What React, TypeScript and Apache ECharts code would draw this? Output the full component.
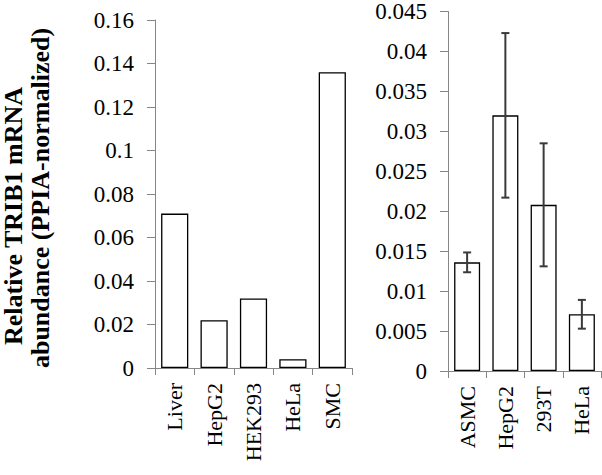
import React, { useEffect, useRef } from "react";
import * as echarts from "echarts";

const leftCategories = ["Liver", "HepG2", "HEK293", "HeLa", "SMC"];
const leftValues = [0.071, 0.022, 0.032, 0.004, 0.136];

const rightCategories = ["ASMC", "HepG2", "293T", "HeLa"];
const rightValues = [0.0136, 0.032, 0.0208, 0.0071];
const rightErrors = [0.00124, 0.0103, 0.0077, 0.0018];

const yTitleLine1 = "Relative TRIB1 mRNA";
const yTitleLine2 = "abundance (PPIA-normalized)";

const FONT = "Liberation Serif";
const AXIS_COLOR = "#868686";

const fmt = (v: number) => String(parseFloat(Number(v).toFixed(4)));

export default function App() {
  const ref = useRef<HTMLDivElement>(null);
  useEffect(() => {
    if (!ref.current) return;
    const chart = echarts.init(ref.current, undefined, { renderer: "svg" });

    const commonX = (cats: string[], gridIndex: number) => ({
      type: "category" as const,
      gridIndex,
      data: cats,
      boundaryGap: true,
      axisLine: { show: true, lineStyle: { color: AXIS_COLOR, width: 1 } },
      axisTick: { show: true, alignWithLabel: false, length: 7, lineStyle: { color: AXIS_COLOR } },
      axisLabel: {
        rotate: 90,
        margin: 15,
        fontFamily: FONT,
        fontSize: 22,
        color: "#000",
        interval: 0,
      },
      splitLine: { show: false },
    });

    const commonY = (gridIndex: number, max: number, interval: number) => ({
      type: "value" as const,
      gridIndex,
      min: 0,
      max,
      interval,
      axisLine: { show: true, lineStyle: { color: AXIS_COLOR, width: 1 } },
      axisTick: { show: true, length: 8, lineStyle: { color: AXIS_COLOR } },
      axisLabel: {
        margin: 21,
        fontFamily: FONT,
        fontSize: 23,
        color: "#000",
        formatter: (v: number) => fmt(v),
      },
      splitLine: { show: false },
    });

    const errData = rightValues.map((v, i) => [i, v - rightErrors[i], v + rightErrors[i]]);

    chart.setOption({
      animation: false,
      backgroundColor: "#fff",
      grid: [
        { left: 155, top: 20, width: 197, height: 348, containLabel: false },
        { left: 448, top: 8, width: 153, height: 363, containLabel: false },
      ],
      xAxis: [commonX(leftCategories, 0), commonX(rightCategories, 1)],
      yAxis: [commonY(0, 0.16, 0.02), commonY(1, 0.045, 0.005)],
      series: [
        {
          type: "bar",
          xAxisIndex: 0,
          yAxisIndex: 0,
          data: leftValues,
          barCategoryGap: "31%",
          itemStyle: { color: "#fff", borderColor: "#000", borderWidth: 1.3 },
        },
        {
          type: "bar",
          xAxisIndex: 1,
          yAxisIndex: 1,
          data: rightValues,
          barCategoryGap: "32%",
          itemStyle: { color: "#fff", borderColor: "#000", borderWidth: 1.3 },
        },
        {
          type: "custom",
          xAxisIndex: 1,
          yAxisIndex: 1,
          data: errData,
          z: 10,
          renderItem: (params: any, api: any) => {
            const idx = api.value(0);
            const lo = api.coord([idx, api.value(1)]);
            const hi = api.coord([idx, api.value(2)]);
            const half = 4;
            const style = { stroke: "#3a3a3a", lineWidth: 2 };
            return {
              type: "group",
              children: [
                { type: "line", shape: { x1: hi[0], y1: hi[1], x2: lo[0], y2: lo[1] }, style },
                { type: "line", shape: { x1: hi[0] - half, y1: hi[1], x2: hi[0] + half, y2: hi[1] }, style },
                { type: "line", shape: { x1: lo[0] - half, y1: lo[1], x2: lo[0] + half, y2: lo[1] }, style },
              ],
            };
          },
        },
      ],
      graphic: [
        {
          type: "text",
          x: 13,
          y: 216,
          rotation: Math.PI / 2,
          style: {
            text: yTitleLine1,
            fontFamily: FONT,
            fontWeight: "bold",
            fontSize: 26,
            fill: "#000",
            textAlign: "center",
            textVerticalAlign: "middle",
          },
        },
        {
          type: "text",
          x: 40,
          y: 198,
          rotation: Math.PI / 2,
          style: {
            text: yTitleLine2,
            fontFamily: FONT,
            fontWeight: "bold",
            fontSize: 26,
            fill: "#000",
            textAlign: "center",
            textVerticalAlign: "middle",
          },
        },
      ],
    });
    return () => chart.dispose();
  }, []);

  return (
    <div
      ref={ref}
      style={{ position: "fixed", left: 0, top: 0, width: 602, height: 475, background: "#fff" }}
    />
  );
}
